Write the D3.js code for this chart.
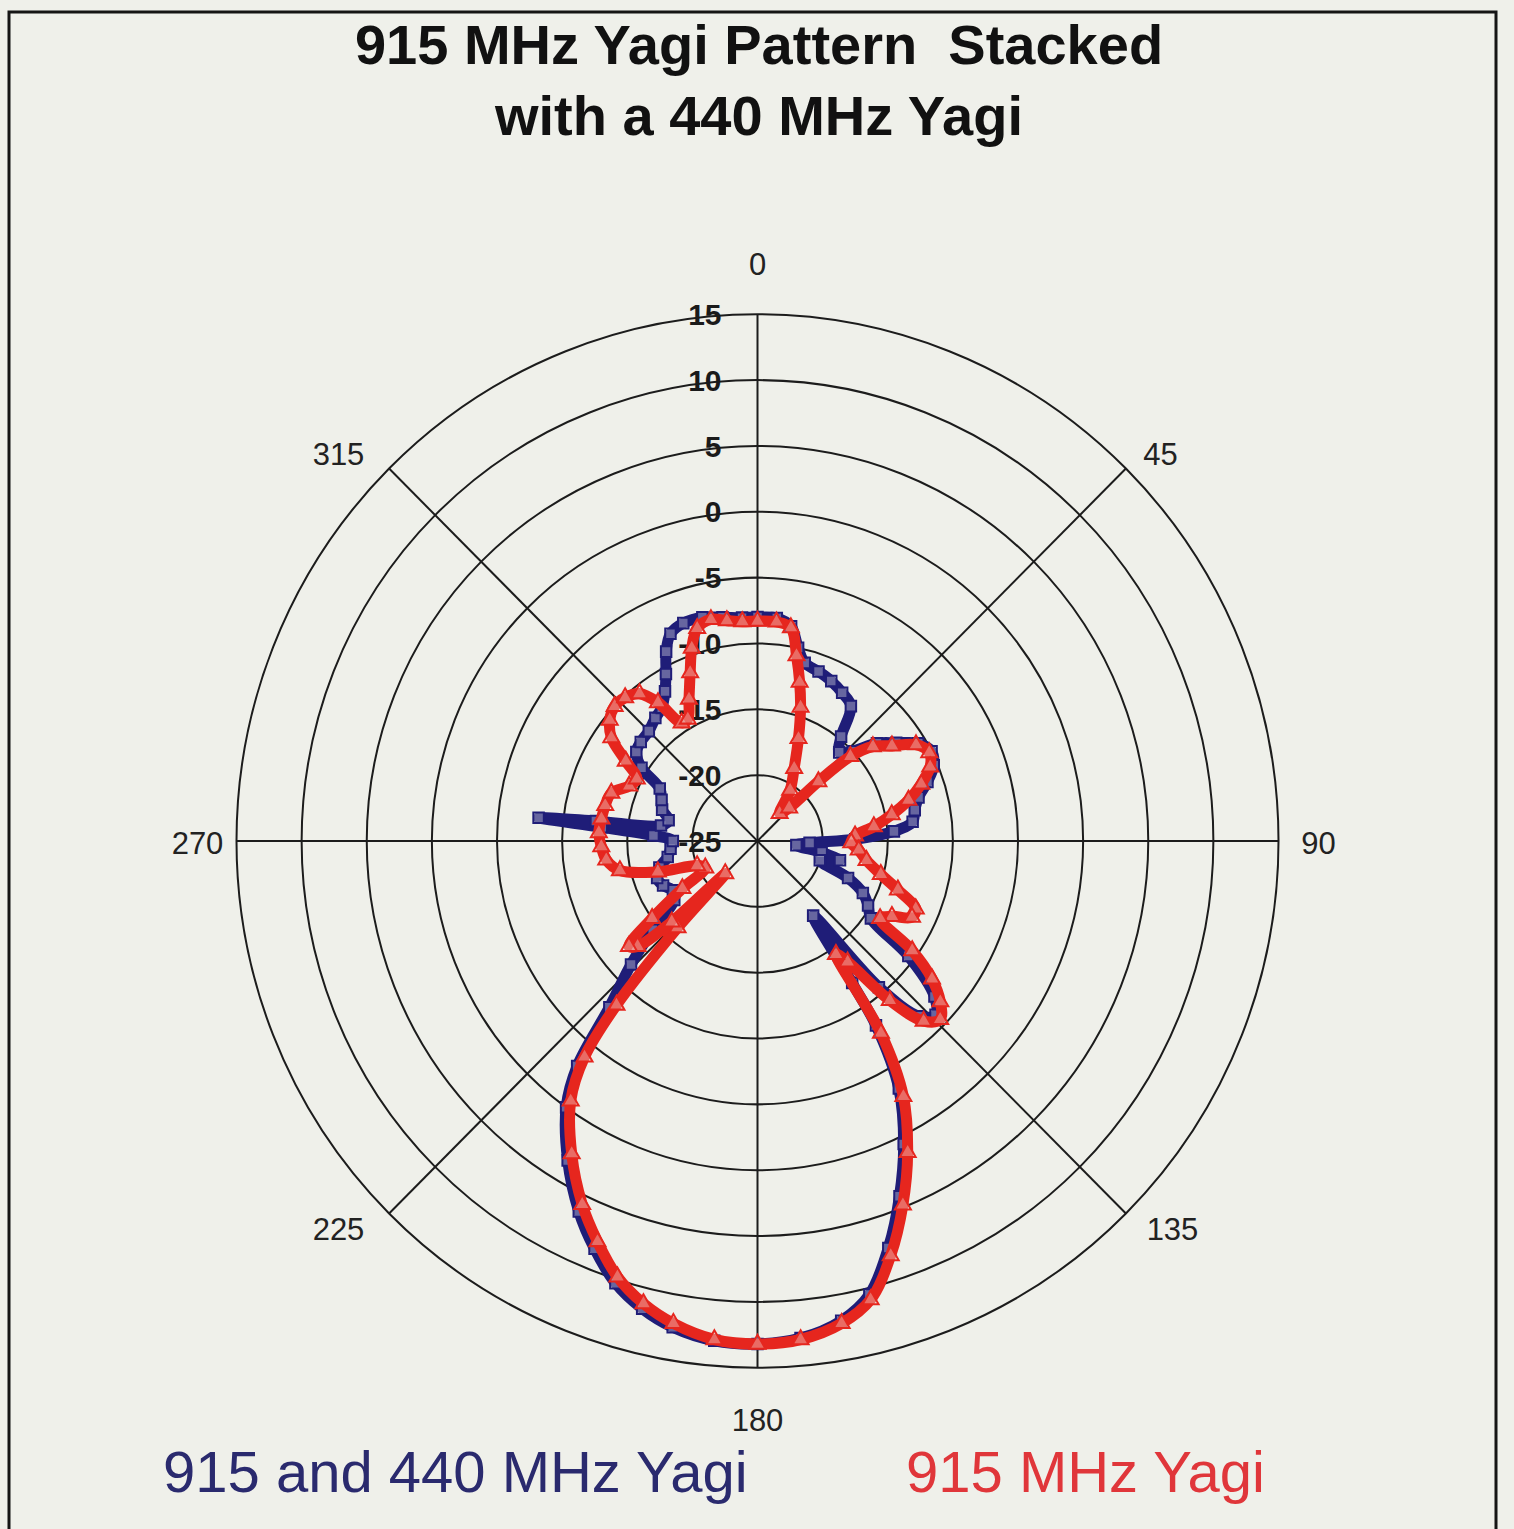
<!DOCTYPE html>
<html>
<head>
<meta charset="utf-8">
<script src="https://cdn.jsdelivr.net/npm/d3@7/dist/d3.min.js"></script>
<style>
  html, body { margin: 0; padding: 0; background: #eff0ea; }
  svg { display: block; }
  text { font-family: "Liberation Sans", Arial, sans-serif; }
</style>
</head>
<body>
<svg id="chart" width="1514" height="1529"></svg>
<script>
// pattern values (angle in degrees, gain in dB)
const redAngles = [0, 5, 9, 12, 15, 18, 22, 27, 33, 39, 44, 46, 48, 51, 55, 59, 63, 67, 71, 75, 79, 83, 87, 91, 95, 100, 105, 109, 113, 116, 119, 122, 125, 128, 131, 134, 137, 140, 143, 145, 147, 150, 154, 158, 162, 166, 170, 175, 180, 185, 190, 194, 198, 202, 206, 211, 216, 219, 221, 223, 225, 227, 229, 231, 234, 238, 243, 248, 253, 258, 263, 268, 273, 278, 283, 288, 293, 297, 301, 305, 309, 313, 317, 321, 324, 327, 330, 334, 338, 341, 344, 348, 352, 356];
const redDb = [-8.3, -8.3, -8.6, -10.6, -12.5, -14.3, -16.6, -18.8, -20.4, -22.3, -21.5, -18.5, -15.4, -13.6, -12.4, -10.8, -10.2, -10.6, -11.7, -13.0, -14.5, -16.0, -17.5, -17.8, -17.2, -16.5, -15.2, -13.6, -11.8, -11.8, -13.2, -13.9, -10.5, -8.0, -6.4, -5.5, -6.3, -9.2, -13.5, -14.5, -7.6, -2.6, 1.3, 4.8, 8.1, 10.9, 12.2, 13.0, 13.2, 13.0, 12.2, 11.2, 9.8, 7.8, 5.7, 2.7, -0.6, -3.9, -8.5, -16, -21.5, -16, -12.8, -12.3, -15.0, -18.2, -20.5, -20, -17, -14.2, -13.3, -13.0, -12.8, -12.9, -13.0, -13.2, -14.3, -14.6, -13.2, -11.3, -10.4, -10.0, -10.1, -10.6, -12.0, -14.3, -14.3, -13.0, -11.2, -9.5, -8.2, -7.8, -8.1, -8.3];

const blueAngles = [0, 5, 9, 12, 15, 20, 25, 30, 35, 39, 43, 47, 51, 55, 59, 63, 67, 71, 75, 79, 83, 86, 89, 92, 96, 100, 103, 107, 112, 116, 120, 124, 127, 131, 134, 137, 140, 143, 146, 147, 150, 154, 158, 162, 166, 170, 175, 180, 185, 190, 194, 198, 202, 206, 211, 216, 219, 222, 226, 230, 235, 240, 245, 250, 255, 260, 265, 270, 273, 275, 276, 277, 279, 283, 288, 293, 298, 302, 306, 310, 315, 320, 324, 328, 331, 334, 337, 341, 346, 351, 356];
const blueDb = [-8.0, -8.0, -8.5, -10.0, -11.0, -11.3, -11.6, -12.0, -12.5, -14.8, -15.8, -15.0, -13.2, -12.0, -10.6, -10.0, -10.3, -11.2, -12.2, -12.7, -13.0, -14.5, -17.5, -21, -22, -20, -18.5, -20, -17.5, -16, -15.2, -14.5, -10.5, -7.0, -6.0, -6.8, -10.5, -17.9, -12, -8.3, -3.3, 0.6, 4.1, 7.5, 10.5, 12.0, 12.9, 13.2, 13.1, 12.5, 11.6, 10.3, 8.4, 6.3, 3.3, 0.0, -3.0, -8.0, -11.5, -14.5, -17.2, -17.5, -17.0, -16.8, -17.2, -18.0, -18.3, -18.5, -17.0, -13.0, -8.1, -12.5, -17.5, -18.0, -17.3, -17.0, -16.5, -14.5, -13.5, -13.3, -13.2, -12.8, -12.5, -11.6, -10.5, -9.0, -7.9, -7.5, -7.5, -7.8, -8.0];

const dbTicks = [15, 10, 5, 0, -5, -10, -15, -20, -25];
const angleTicks = [0, 45, 90, 135, 180, 225, 270, 315];
const titleLines = ["915 MHz Yagi Pattern\u00a0 Stacked", "with a 440 MHz Yagi"];
const seriesNames = ["915 and 440 MHz Yagi", "915 MHz Yagi"];

const cx = 757.5, cy = 841, R = 521;
const blue = "#1f1d78", red = "#e6261e";

const svg = d3.select("#chart");

svg.append("rect")
    .attr("width", 1514).attr("height", 1529)
    .attr("fill", "#eff0ea");

// frame
svg.append("rect")
    .attr("x", 9).attr("y", 12)
    .attr("width", 1487).attr("height", 1560)
    .attr("fill", "none")
    .attr("stroke", "#151515")
    .attr("stroke-width", 3);

// title
svg.selectAll(".title")
    .data(titleLines)
    .enter()
    .append("text")
    .attr("class", "title")
    .attr("x", 759)
    .attr("y", (d, i) => 64 + i * 71)
    .attr("text-anchor", "middle")
    .attr("font-weight", "bold")
    .attr("font-size", 56)
    .attr("fill", "#111")
    .text(d => d);

const r = d3.scaleLinear().domain([-25, 15]).range([0, R]);

// slight vertical stretch seen in the scan
let plot = svg.append("g")
    .attr("transform", "translate(" + cx + "," + cy + ") scale(1,1.011)");

// rings
plot.selectAll(".ring")
    .data(dbTicks.filter(d => d > -25))
    .enter()
    .append("circle")
    .attr("class", "ring")
    .attr("r", d => r(d))
    .attr("fill", "none")
    .attr("stroke", "#1c1c1c")
    .attr("stroke-width", 2);

// spokes
plot.selectAll(".spoke")
    .data([0, 45, 90, 135])
    .enter()
    .append("line")
    .attr("class", "spoke")
    .attr("x1", d => R * Math.sin(d * Math.PI / 180))
    .attr("y1", d => -R * Math.cos(d * Math.PI / 180))
    .attr("x2", d => -R * Math.sin(d * Math.PI / 180))
    .attr("y2", d => R * Math.cos(d * Math.PI / 180))
    .attr("stroke", "#1c1c1c")
    .attr("stroke-width", 2);

// dB labels on the vertical axis
plot.selectAll(".dbLabel")
    .data(dbTicks)
    .enter()
    .append("text")
    .attr("class", "dbLabel")
    .attr("x", -36)
    .attr("y", d => -r(d))
    .attr("dy", "0.35em")
    .attr("text-anchor", "end")
    .attr("font-weight", "bold")
    .attr("font-size", 30)
    .attr("fill", "#1a1a1a")
    .text(d => d);

// angle labels
const labelOffset = {0: [0, -571], 45: [403, -383], 90: [561, 2], 135: [415, 384], 180: [0, 572], 225: [-419, 384], 270: [-560, 2], 315: [-419, -383]};
plot.selectAll(".angleLabel")
    .data(angleTicks)
    .enter()
    .append("text")
    .attr("class", "angleLabel")
    .attr("x", d => labelOffset[d][0])
    .attr("y", d => labelOffset[d][1])
    .attr("dy", "0.36em")
    .attr("text-anchor", "middle")
    .attr("font-size", 31)
    .attr("fill", "#222")
    .text(d => d);

const line = d3.lineRadial()
    .angle(d => d.a * Math.PI / 180)
    .radius(d => r(d.v))
    .curve(d3.curveCatmullRomClosed.alpha(0.5));

function drawSeries(angles, values, color, symbol, name) {
    let pts = angles.map((a, i) => ({a: a, v: values[i]}));
    let g = plot.append("g").attr("class", name);
    g.append("path")
        .datum(pts)
        .attr("d", line)
        .attr("fill", "none")
        .attr("stroke", color)
        .attr("stroke-width", 11)
        .attr("stroke-linejoin", "round");
    g.selectAll(".marker")
        .data(pts)
        .enter()
        .append("path")
        .attr("class", "marker")
        .attr("d", d3.symbol().type(symbol).size(110))
        .attr("transform", d => {
            let rad = r(d.v), t = d.a * Math.PI / 180;
            return "translate(" + (rad * Math.sin(t)) + "," + (-rad * Math.cos(t)) + ")";
        })
        .attr("fill", "#eff0ea")
        .attr("fill-opacity", 0.35)
        .attr("stroke", color)
        .attr("stroke-width", 2);
}

drawSeries(blueAngles, blueDb, blue, d3.symbolSquare, "blueSeries");
drawSeries(redAngles, redDb, red, d3.symbolTriangle, "redSeries");

// legend
svg.selectAll(".legend")
    .data(seriesNames)
    .enter()
    .append("text")
    .attr("class", "legend")
    .attr("x", (d, i) => i === 0 ? 163 : 906)
    .attr("y", 1492)
    .attr("font-size", 58)
    .attr("fill", (d, i) => i === 0 ? "#2a2a6e" : "#e0363a")
    .text(d => d);
</script>
</body>
</html>
